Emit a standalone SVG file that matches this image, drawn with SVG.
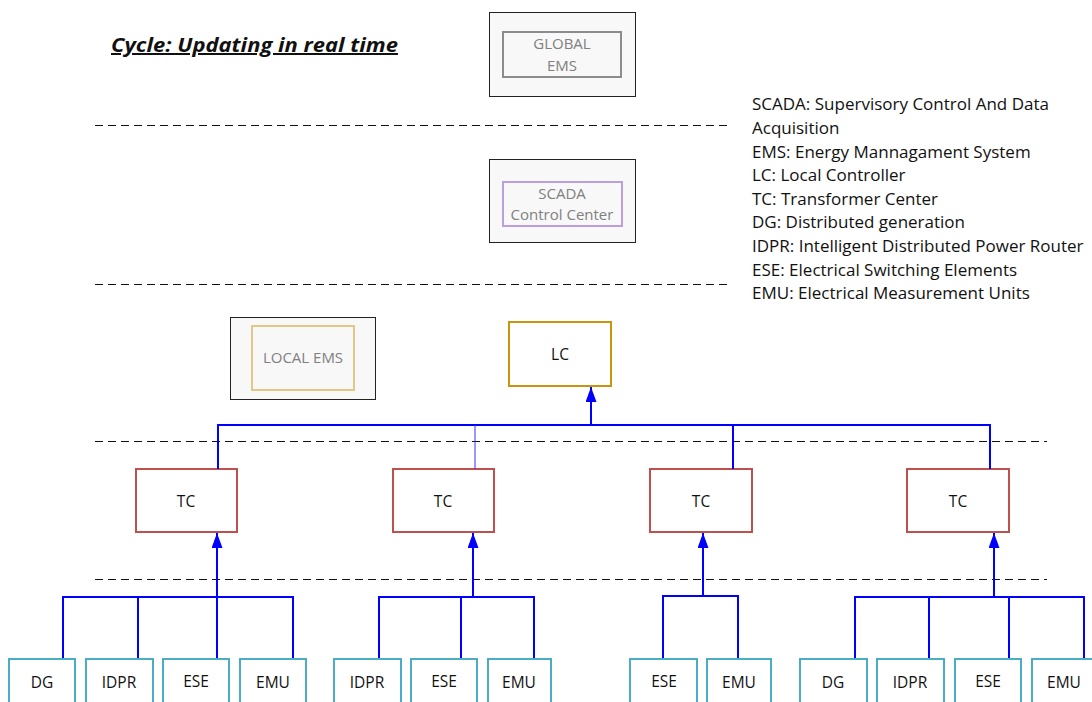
<svg xmlns="http://www.w3.org/2000/svg" width="1092" height="702" viewBox="0 0 1092 702">
<defs>
<marker id="ah" markerWidth="15" markerHeight="11" refX="15" refY="5.5" orient="auto" markerUnits="userSpaceOnUse" viewBox="0 0 15 11">
<path d="M0,0 L15,5.5 L0,11 Z" fill="#0000ff"/>
</marker>
<style>
text{font-family:"Open Sans","Liberation Sans",Arial,sans-serif;}
.outer{fill:#f8f8f8;stroke:#222;stroke-width:1;}
.g{fill:none;stroke:#8c8c8c;stroke-width:2;}
.p{fill:none;stroke:#b9a0dc;stroke-width:2;}
.y{fill:none;stroke:#e2c886;stroke-width:2;}
.lc{fill:#fff;stroke:#c8960a;stroke-width:2;}
.tc{fill:#fff;stroke:#c0504d;stroke-width:2;}
.leaf{fill:#fff;stroke:#4bacc6;stroke-width:2;}
.gt{fill:#808080;font-size:15px;text-anchor:middle;}
.bt{fill:#111;font-size:15.5px;text-anchor:middle;}
.leg{fill:#111;font-size:17px;}
.dash{stroke:#111;stroke-width:1;stroke-dasharray:8,5;fill:none;}
.bl{stroke:#0000ff;stroke-width:2;fill:none;}
</style>
</defs>
<rect width="1092" height="702" fill="#fff"/>

<text x="111" y="52" font-size="20" font-weight="bold" font-style="italic" text-decoration="underline" fill="#111" textLength="287" lengthAdjust="spacingAndGlyphs">Cycle: Updating in real time</text>

<g id="dashes">
<line class="dash" x1="95" y1="125.5" x2="730" y2="125.5"/>
<line class="dash" x1="95" y1="284.5" x2="730" y2="284.5"/>
<line class="dash" x1="95" y1="441.5" x2="1047" y2="441.5"/>
<line class="dash" x1="95" y1="579.5" x2="1047" y2="579.5"/>
</g>

<g id="legend">
<text class="leg" x="752" y="110">SCADA: Supervisory Control And Data</text>
<text class="leg" x="752" y="134">Acquisition</text>
<text class="leg" x="752" y="158">EMS: Energy Mannagament System</text>
<text class="leg" x="752" y="181">LC: Local Controller</text>
<text class="leg" x="752" y="205">TC: Transformer Center</text>
<text class="leg" x="752" y="228">DG: Distributed generation</text>
<text class="leg" x="752" y="252">IDPR: Intelligent Distributed Power Router</text>
<text class="leg" x="752" y="276">ESE: Electrical Switching Elements</text>
<text class="leg" x="752" y="299">EMU: Electrical Measurement Units</text>
</g>

<g id="global-ems">
<rect class="outer" x="489.5" y="12.5" width="146" height="84"/>
<rect class="g" x="503" y="32" width="118" height="45"/>
<text class="gt" x="562" y="49">GLOBAL</text>
<text class="gt" x="562" y="71">EMS</text>
</g>

<g id="scada">
<rect class="outer" x="489.5" y="159.5" width="146" height="83"/>
<rect class="p" x="503" y="182" width="119" height="44"/>
<text class="gt" x="562" y="199">SCADA</text>
<text class="gt" x="562" y="220">Control Center</text>
</g>

<g id="local-ems">
<rect class="outer" x="230.5" y="317.5" width="145" height="82"/>
<rect class="y" x="252" y="326" width="102" height="64"/>
<text class="gt" x="303" y="363">LOCAL EMS</text>
</g>

<g id="lc">
<rect class="lc" x="509" y="322" width="102" height="64"/>
<text class="bt" x="560" y="360">LC</text>
</g>

<g id="tc1"><rect class="tc" x="136" y="469" width="101" height="63"/><text class="bt" x="186" y="507">TC</text></g>
<g id="tc2"><rect class="tc" x="393" y="469" width="101" height="63"/><text class="bt" x="443" y="507">TC</text></g>
<g id="tc3"><rect class="tc" x="650" y="469" width="102" height="63"/><text class="bt" x="701" y="507">TC</text></g>
<g id="tc4"><rect class="tc" x="907" y="469" width="102" height="63"/><text class="bt" x="958" y="507">TC</text></g>

<g id="connectors">
<polyline class="bl" points="218,469 218,425 990,425 990,469"/>
<line x1="475" y1="425" x2="475" y2="469" stroke="#3333ff" stroke-width="1"/>
<line class="bl" x1="733" y1="425" x2="733" y2="469"/>
<line class="bl" x1="591" y1="425" x2="591" y2="387" marker-end="url(#ah)"/>

<polyline class="bl" points="63,659 63,597 293,597 293,659"/>
<line class="bl" x1="138" y1="597" x2="138" y2="659"/>
<line class="bl" x1="217" y1="659" x2="217" y2="533" marker-end="url(#ah)"/>

<polyline class="bl" points="379,659 379,597 534,597 534,659"/>
<line class="bl" x1="461" y1="597" x2="461" y2="659"/>
<line class="bl" x1="473" y1="597" x2="473" y2="533" marker-end="url(#ah)"/>

<polyline class="bl" points="663,659 663,596 738,596 738,659"/>
<line class="bl" x1="703" y1="596" x2="703" y2="533" marker-end="url(#ah)"/>

<polyline class="bl" points="855,659 855,597 1084,597 1084,659"/>
<line class="bl" x1="929" y1="597" x2="929" y2="659"/>
<line class="bl" x1="1009" y1="597" x2="1009" y2="659"/>
<line class="bl" x1="994" y1="597" x2="994" y2="533" marker-end="url(#ah)"/>
</g>

<g id="dg1"><rect class="leaf" x="9" y="659" width="66" height="48"/><text class="bt" x="42" y="688">DG</text></g>
<g id="idpr1"><rect class="leaf" x="86" y="659" width="67" height="48"/><text class="bt" x="119" y="688">IDPR</text></g>
<g id="ese1"><rect class="leaf" x="163" y="659" width="66" height="48"/><text class="bt" x="196" y="687">ESE</text></g>
<g id="emu1"><rect class="leaf" x="240" y="659" width="66" height="48"/><text class="bt" x="273" y="688">EMU</text></g>

<g id="idpr2"><rect class="leaf" x="334" y="659" width="67" height="48"/><text class="bt" x="367" y="688">IDPR</text></g>
<g id="ese2"><rect class="leaf" x="411" y="659" width="66" height="48"/><text class="bt" x="444" y="687">ESE</text></g>
<g id="emu2"><rect class="leaf" x="488" y="659" width="63" height="48"/><text class="bt" x="519" y="688">EMU</text></g>

<g id="ese3"><rect class="leaf" x="630" y="659" width="67" height="48"/><text class="bt" x="664" y="687">ESE</text></g>
<g id="emu3"><rect class="leaf" x="707" y="659" width="64" height="48"/><text class="bt" x="739" y="688">EMU</text></g>

<g id="dg4"><rect class="leaf" x="800" y="659" width="67" height="48"/><text class="bt" x="833" y="688">DG</text></g>
<g id="idpr4"><rect class="leaf" x="877" y="659" width="67" height="48"/><text class="bt" x="910" y="688">IDPR</text></g>
<g id="ese4"><rect class="leaf" x="955" y="659" width="66" height="48"/><text class="bt" x="988" y="687">ESE</text></g>
<g id="emu4"><rect class="leaf" x="1032" y="659" width="66" height="48"/><text class="bt" x="1064" y="688">EMU</text></g>
</svg>
